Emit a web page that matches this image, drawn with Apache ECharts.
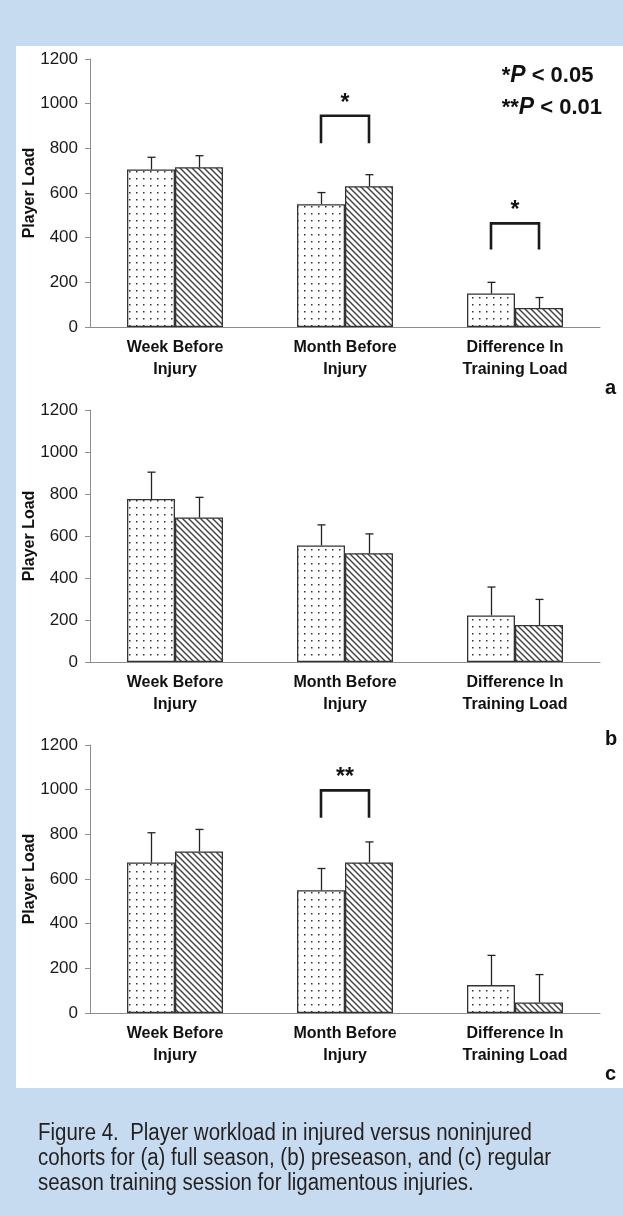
<!DOCTYPE html>
<html>
<head>
<meta charset="utf-8">
<script src="https://cdn.jsdelivr.net/npm/echarts@6/dist/echarts.min.js"></script>
<style>
  html, body { margin: 0; padding: 0; background: #c6dbef; }
  #chart { width: 623px; height: 1216px; }
</style>
</head>
<body>
<div id="chart"></div>
<script>
// categories shared by the three panels
const categories = ['Week Before\nInjury', 'Month Before\nInjury', 'Difference In\nTraining Load'];

// (a) full season
const aDotted = [705, 550, 150];
const aDottedSd = [55, 52, 50];
const aHatched = [715, 630, 85];
const aHatchedSd = [52, 52, 47];
// (b) preseason
const bDotted = [776, 555, 222];
const bDottedSd = [128, 98, 135];
const bHatched = [688, 518, 176];
const bHatchedSd = [96, 92, 122];
// (c) regular season
const cDotted = [674, 550, 125];
const cDottedSd = [133, 97, 133];
const cHatched = [723, 674, 47];
const cHatchedSd = [99, 92, 125];

// significance brackets: [category index, leg bottom, bracket top, stars]
const aBrackets = [[1, 823, 946, '*'], [2, 347, 464, '*']];
const bBrackets = [];
const cBrackets = [[1, 874, 997, '**']];

const yTicks = [0, 200, 400, 600, 800, 1000, 1200];

const BAR_W = 48;
const FONT = '"Liberation Sans", Arial, sans-serif';

function dotPattern() {
  const c = document.createElement('canvas');
  c.width = 7; c.height = 7;
  const ctx = c.getContext('2d');
  ctx.fillStyle = '#fff';
  ctx.fillRect(0, 0, 7, 7);
  ctx.fillStyle = '#333';
  ctx.fillRect(3, 3, 1.5, 1.5);
  return c;
}

function hatchPattern() {
  const s = 6;
  const c = document.createElement('canvas');
  c.width = s; c.height = s;
  const ctx = c.getContext('2d');
  ctx.fillStyle = '#fff';
  ctx.fillRect(0, 0, s, s);
  ctx.strokeStyle = '#444';
  ctx.lineWidth = 1.5;
  for (let k = -1; k <= 1; k++) {
    ctx.beginPath();
    ctx.moveTo(-1, -1 + k * s);
    ctx.lineTo(s + 1, s + 1 + k * s);
    ctx.stroke();
  }
  return c;
}

const dotFill = { image: dotPattern(), repeat: 'repeat' };
const hatchFill = { image: hatchPattern(), repeat: 'repeat' };

function errItem(sign) {
  return function (params, api) {
    const i = api.value(0);
    const base = api.coord([i, api.value(1)]);
    const top = api.coord([i, api.value(1) + api.value(2)]);
    const x = Math.round(base[0] + sign * BAR_W / 2) + 0.5;
    const st = { stroke: '#222', lineWidth: 1.3 };
    return {
      type: 'group',
      children: [
        { type: 'line', shape: { x1: x, y1: base[1], x2: x, y2: top[1] }, style: st },
        { type: 'line', shape: { x1: x - 4, y1: top[1], x2: x + 4, y2: top[1] }, style: st }
      ]
    };
  };
}

function bracketItem(params, api) {
  const i = api.value(0);
  const lo = api.coord([i, api.value(1)]);
  const hi = api.coord([i, api.value(2)]);
  const x1 = lo[0] - BAR_W / 2, x2 = lo[0] + BAR_W / 2;
  return {
    type: 'group',
    children: [
      {
        type: 'polyline',
        shape: { points: [[x1, lo[1]], [x1, hi[1]], [x2, hi[1]], [x2, lo[1]]] },
        style: { stroke: '#1a1a1a', lineWidth: 2.6, fill: null }
      },
      {
        type: 'text',
        style: {
          x: lo[0], y: hi[1] - 1, text: api.value(3),
          font: 'bold 23px ' + FONT,
          fill: '#111', align: 'center', verticalAlign: 'bottom'
        }
      }
    ]
  };
}

const grids = [
  { left: 90, right: 23, top: 59, height: 268 },
  { left: 90, right: 23, top: 410, height: 252 },
  { left: 90, right: 23, top: 745, height: 268 }
];

const panels = [
  [aDotted, aDottedSd, aHatched, aHatchedSd, aBrackets],
  [bDotted, bDottedSd, bHatched, bHatchedSd, bBrackets],
  [cDotted, cDottedSd, cHatched, cHatchedSd, cBrackets]
];

const xAxis = grids.map((g, k) => ({
  gridIndex: k,
  type: 'category',
  data: categories,
  axisLine: { lineStyle: { color: '#8c8c8c', width: 1 } },
  axisTick: { length: 5, lineStyle: { color: '#8c8c8c' } },
  axisLabel: {
    interval: 0, margin: 10, fontSize: 16, lineHeight: 22,
    fontWeight: 'bold', color: '#111', fontFamily: FONT
  }
}));

const yAxis = grids.map((g, k) => ({
  gridIndex: k,
  type: 'value',
  min: yTicks[0],
  max: yTicks[yTicks.length - 1],
  interval: yTicks[1] - yTicks[0],
  name: 'Player Load',
  nameLocation: 'middle',
  nameRotate: 90,
  nameGap: 52,
  nameMoveOverlap: false,
  nameTextStyle: {
    fontSize: 16, fontWeight: 'bold', color: '#111', fontFamily: FONT
  },
  axisLine: { show: true, lineStyle: { color: '#8c8c8c', width: 1 } },
  axisTick: { show: true, length: 5, lineStyle: { color: '#8c8c8c' } },
  splitLine: { show: false },
  axisLabel: {
    fontSize: 17, color: '#1a1a1a', margin: 12, fontFamily: FONT,
    formatter: v => String(v)
  }
}));

const series = [];
panels.forEach((p, k) => {
  const [dot, dotSd, hatch, hatchSd, brackets] = p;
  series.push({
    type: 'bar', xAxisIndex: k, yAxisIndex: k, data: dot,
    barWidth: BAR_W, barGap: '0%',
    itemStyle: { color: dotFill, borderColor: '#333', borderWidth: 1.3 },
    silent: true
  });
  series.push({
    type: 'bar', xAxisIndex: k, yAxisIndex: k, data: hatch,
    barWidth: BAR_W, barGap: '0%',
    itemStyle: { color: hatchFill, borderColor: '#333', borderWidth: 1.3 },
    silent: true
  });
  series.push({
    type: 'custom', xAxisIndex: k, yAxisIndex: k, z: 5,
    renderItem: errItem(-1),
    data: dot.map((v, i) => [i, v, dotSd[i]])
  });
  series.push({
    type: 'custom', xAxisIndex: k, yAxisIndex: k, z: 5,
    renderItem: errItem(1),
    data: hatch.map((v, i) => [i, v, hatchSd[i]])
  });
  if (brackets.length) {
    series.push({
      type: 'custom', xAxisIndex: k, yAxisIndex: k, z: 6,
      renderItem: bracketItem,
      data: brackets
    });
  }
});

const chart = echarts.init(document.getElementById('chart'), null, { renderer: 'canvas' });
chart.setOption({
  animation: false,
  backgroundColor: '#c6dbef',
  grid: grids,
  xAxis: xAxis,
  yAxis: yAxis,
  series: series,
  graphic: [
    {
      type: 'rect', z: -10, silent: true,
      shape: { x: 16, y: 46, width: 607, height: 1042 },
      style: { fill: '#fff' }
    },
    {
      type: 'text', right: 21, top: 64,
      style: {
        text: '{s|*}{p|P}{s| < 0.05}\n{s|**}{p|P}{s| < 0.01}',
        align: 'right',
        rich: {
          s: { font: 'bold 22px ' + FONT, fill: '#111', lineHeight: 32 },
          p: { font: 'italic bold 23px ' + FONT, fill: '#111', lineHeight: 32 }
        }
      }
    },
    {
      type: 'text', left: 605, top: 378,
      style: { text: 'a', font: 'bold 20px ' + FONT, fill: '#111' }
    },
    {
      type: 'text', left: 605, top: 729,
      style: { text: 'b', font: 'bold 20px ' + FONT, fill: '#111' }
    },
    {
      type: 'text', left: 605, top: 1064,
      style: { text: 'c', font: 'bold 20px ' + FONT, fill: '#111' }
    },
    {
      type: 'text', x: 38, y: 1121, scaleX: 0.89,
      style: {
        text: 'Figure 4.  Player workload in injured versus noninjured\ncohorts for (a) full season, (b) preseason, and (c) regular\nseason training session for ligamentous injuries.',
        font: '23px ' + FONT,
        lineHeight: 25,
        fill: '#231f20'
      }
    }
  ]
});
</script>
</body>
</html>
